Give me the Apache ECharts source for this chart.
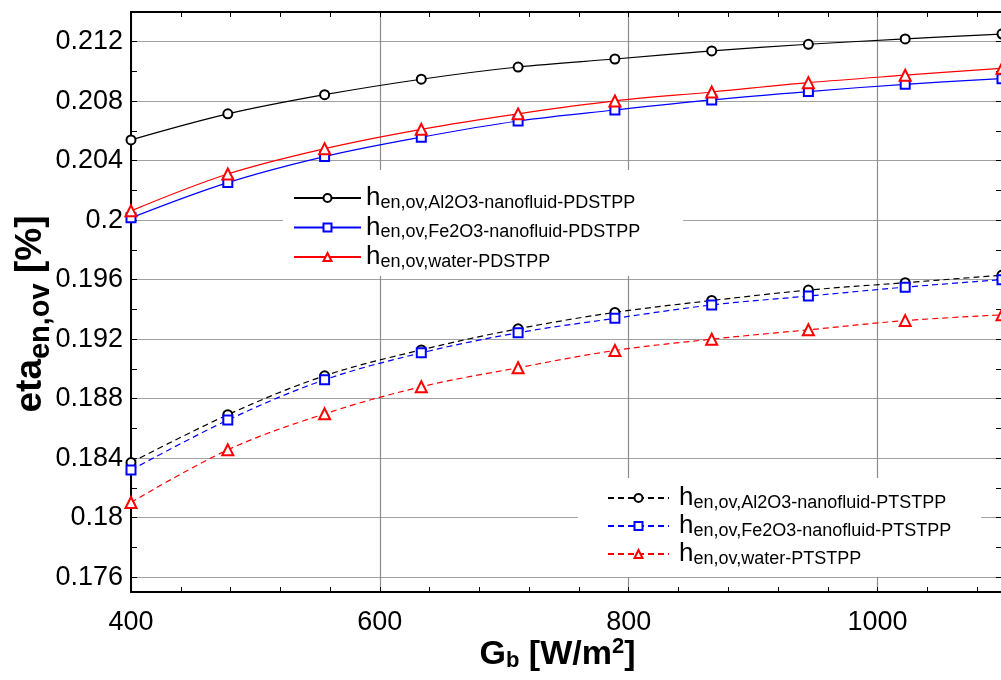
<!DOCTYPE html>
<html>
<head>
<meta charset="utf-8">
<script src="https://cdn.jsdelivr.net/npm/echarts@6/dist/echarts.min.js"></script>
<style>
html,body{margin:0;padding:0;background:#fff;}
#chart{width:1001px;height:680px;}
</style>
</head>
<body>
<div id="chart"></div>
<script>
// ---- data ----
const xValues = [400, 477.8, 555.6, 633.3, 711.1, 788.9, 866.7, 944.4, 1022.2, 1100];
const al2o3PD = [0.2054, 0.20715, 0.20844, 0.20948, 0.2103, 0.21084, 0.21138, 0.21183, 0.21219, 0.21252];
const fe2o3PD = [0.20016, 0.20253, 0.20428, 0.20558, 0.20667, 0.20741, 0.20809, 0.20865, 0.20914, 0.20952];
const waterPD = [0.20063, 0.20311, 0.20481, 0.20611, 0.20715, 0.20802, 0.20862, 0.20925, 0.20975, 0.21022];
const al2o3PT = [0.1837, 0.18692, 0.18954, 0.19128, 0.1927, 0.1938, 0.1946, 0.1953, 0.1958, 0.1963];
const fe2o3PT = [0.1832, 0.18656, 0.18927, 0.19108, 0.19243, 0.1934, 0.1943, 0.1949, 0.1955, 0.1960];
const waterPT = [0.18102, 0.18456, 0.18698, 0.1888, 0.19008, 0.19124, 0.192, 0.19263, 0.19325, 0.19364];
const seriesNames = [
  'en,ov,Al2O3-nanofluid-PDSTPP',
  'en,ov,Fe2O3-nanofluid-PDSTPP',
  'en,ov,water-PDSTPP',
  'en,ov,Al2O3-nanofluid-PTSTPP',
  'en,ov,Fe2O3-nanofluid-PTSTPP',
  'en,ov,water-PTSTPP'
];
const yTickValues = [0.176, 0.178, 0.18, 0.182, 0.184, 0.186, 0.188, 0.19, 0.192, 0.194, 0.196, 0.198, 0.2, 0.202, 0.204, 0.206, 0.208, 0.21, 0.212, 0.214];
const yLabelValues = [0.176, 0.18, 0.184, 0.188, 0.192, 0.196, 0.2, 0.204, 0.208, 0.212];
const xLabelValues = [400, 600, 800, 1000];

const FONT = '"Liberation Sans", Arial, sans-serif';
const pairs = arr => xValues.map((x, i) => [x, arr[i]]);

function mkSeries(name, data, color, symbol, dashed) {
  return {
    name: name, type: 'line', data: pairs(data), smooth: 0.35,
    symbol: symbol, symbolSize: symbol === 'emptyTriangle' ? 11 : 9,
    showSymbol: true, clip: true,
    lineStyle: { color: color, width: 1.2, type: dashed ? [6, 4] : 'solid' },
    itemStyle: { color: color, borderColor: color, borderWidth: 1.2 },
    emphasis: { disabled: true }, animation: false
  };
}

const legendRich = {
  h: { fontSize: 26, lineHeight: 28, color: '#000', fontFamily: FONT },
  s: { fontSize: 18, lineHeight: 18, verticalAlign: 'bottom', color: '#000', fontFamily: FONT }
};
const legendRich2 = {
  h: { fontSize: 26, lineHeight: 28, color: '#000', fontFamily: FONT, padding: [0, 0, 0, 5] },
  s: { fontSize: 18, lineHeight: 18, verticalAlign: 'bottom', color: '#000', fontFamily: FONT }
};

const chart = echarts.init(document.getElementById('chart'), null, { renderer: 'canvas' });
const option = {
  backgroundColor: '#fff',
  animation: false,
  grid: { left: 131, top: 12, width: 871, height: 580, containLabel: false, outerBoundsMode: 'none' },
  xAxis: [{
    type: 'value', min: 400, max: 1100, interval: 40, position: 'bottom',
    axisLine: { show: true, onZero: false, lineStyle: { color: '#000', width: 2 } },
    axisTick: { show: true, inside: true, length: 5, lineStyle: { color: '#000', width: 1 } },
    axisLabel: {
      formatter: v => (xLabelValues.indexOf(v) >= 0 ? String(v) : ''),
      fontSize: 27, color: '#000', margin: 17, fontFamily: FONT
    },
    splitLine: { show: true, showMinLine: true, showMaxLine: true,
      lineStyle: { color: ['#8c8c8c', 'rgba(0,0,0,0)', 'rgba(0,0,0,0)', 'rgba(0,0,0,0)', 'rgba(0,0,0,0)'], width: 1.2 } },
    name: '{m|G}{s|b}{m| [W/m}{p|2}{m|]}{sp| }',
    nameLocation: 'middle', nameGap: 44, nameMoveOverlap: false,
    nameTextStyle: {
      rich: {
        m: { fontSize: 34, fontWeight: 'bold', color: '#000', fontFamily: FONT, lineHeight: 36, verticalAlign: 'bottom' },
        s: { fontSize: 22, fontWeight: 'bold', color: '#000', fontFamily: FONT, lineHeight: 22, verticalAlign: 'bottom' },
        p: { fontSize: 22, fontWeight: 'bold', color: '#000', fontFamily: FONT, lineHeight: 22, verticalAlign: 'top' },
        sp: { width: 18, fontSize: 10 }
      }
    }
  }, {
    type: 'value', min: 400, max: 1100, interval: 40, position: 'top',
    axisLine: { show: true, onZero: false, lineStyle: { color: '#000', width: 2 } },
    axisTick: { show: true, inside: true, length: 5, lineStyle: { color: '#000', width: 1 } },
    axisLabel: { show: false }, splitLine: { show: false }
  }],
  yAxis: [{
    type: 'value', min: 0.175, max: 0.214, position: 'left',
    axisLine: { show: true, onZero: false, lineStyle: { color: '#000', width: 2 } },
    axisTick: { show: true, inside: true, length: 6, customValues: yTickValues, lineStyle: { color: '#000', width: 1 } },
    axisLabel: {
      customValues: yLabelValues,
      formatter: v => String(parseFloat(Number(v).toFixed(3))),
      fontSize: 27, color: '#000', margin: 8, fontFamily: FONT
    },
    splitLine: { show: true, showMinLine: true, showMaxLine: true,
      lineStyle: { color: ['#a0a0a0', 'rgba(0,0,0,0)'], width: 1.2 } },
    name: '{m|eta}{s|en,ov}{m| [%]}{sp| }',
    nameLocation: 'middle', nameRotate: 90, nameGap: 76, nameMoveOverlap: false,
    nameTextStyle: {
      rich: {
        m: { fontSize: 37, fontWeight: 'bold', color: '#000', fontFamily: FONT, lineHeight: 36, verticalAlign: 'bottom', padding: [0, 0, 6, 0] },
        s: { fontSize: 29, fontWeight: 'bold', color: '#000', fontFamily: FONT, lineHeight: 28, verticalAlign: 'bottom' },
        sp: { width: 24, fontSize: 10 }
      }
    }
  }, {
    type: 'value', min: 0.175, max: 0.214, position: 'right',
    axisLine: { show: false },
    axisTick: { show: true, inside: true, length: 6, customValues: yTickValues, lineStyle: { color: '#000', width: 1 } },
    axisLabel: { show: false }, splitLine: { show: false }
  }],
  legend: [{
    orient: 'vertical', left: 283, top: 170,
    padding: [15, 43, 5, 10], backgroundColor: '#fff',
    itemWidth: 67, itemHeight: 10, itemGap: 2.5,
    data: seriesNames.slice(0, 3),
    formatter: n => '{h|h}{s|' + n + '}',
    textStyle: { rich: legendRich, color: '#000' },
    selectedMode: false
  }, {
    orient: 'vertical', left: 578, top: 478,
    padding: [7, 30, 9, 29], backgroundColor: '#fff',
    itemWidth: 61, itemHeight: 10, itemGap: 1,
    data: seriesNames.slice(3, 6),
    formatter: n => '{h|h}{s|' + n + '}',
    textStyle: { rich: legendRich2, color: '#000' },
    selectedMode: false
  }],
  series: [
    mkSeries(seriesNames[0], al2o3PD, '#000000', 'emptyCircle', false),
    mkSeries(seriesNames[1], fe2o3PD, '#0000ff', 'emptyRect', false),
    mkSeries(seriesNames[2], waterPD, '#ff0000', 'emptyTriangle', false),
    mkSeries(seriesNames[3], al2o3PT, '#000000', 'emptyCircle', true),
    mkSeries(seriesNames[4], fe2o3PT, '#0000ff', 'emptyRect', true),
    mkSeries(seriesNames[5], waterPT, '#ff0000', 'emptyTriangle', true)
  ]
};
chart.setOption(option);
</script>
</body>
</html>
